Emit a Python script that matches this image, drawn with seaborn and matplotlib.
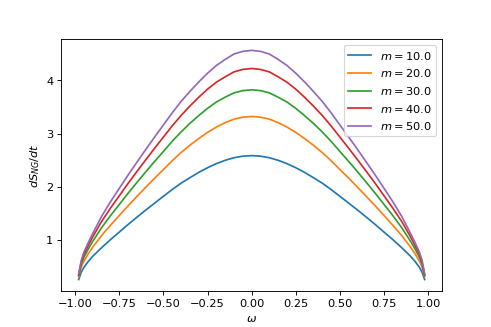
import pandas as pd
import seaborn as sns
import matplotlib.pyplot as plt


# omega grid and dS_NG/dt values
omega = [-0.98, -0.965, -0.95, -0.925, -0.9, -0.85, -0.8, -0.75, -0.7, -0.65, -0.6, -0.55,
         -0.5, -0.45, -0.4, -0.35, -0.3, -0.25, -0.2, -0.15, -0.1, -0.05, 0.0,
         0.05, 0.1, 0.15, 0.2, 0.25, 0.3, 0.35, 0.4, 0.45, 0.5, 0.55, 0.6, 0.65,
         0.7, 0.75, 0.8, 0.85, 0.9, 0.925, 0.95, 0.965, 0.98]

m10 = [0.26, 0.40, 0.491, 0.602, 0.698, 0.858, 1.008, 1.150, 1.293, 1.430, 1.564, 1.693,
       1.822, 1.949, 2.068, 2.171, 2.270, 2.358, 2.435, 2.497, 2.546, 2.575, 2.585,
       2.575, 2.546, 2.497, 2.435, 2.358, 2.270, 2.171, 2.068, 1.949, 1.822, 1.693, 1.564, 1.430,
       1.293, 1.150, 1.008, 0.858, 0.698, 0.602, 0.491, 0.40, 0.26]
m20 = [0.31, 0.498, 0.608, 0.747, 0.870, 1.086, 1.278, 1.461, 1.643, 1.819, 1.992, 2.161,
       2.324, 2.490, 2.643, 2.779, 2.905, 3.021, 3.121, 3.204, 3.270, 3.307, 3.32,
       3.307, 3.270, 3.204, 3.121, 3.021, 2.905, 2.779, 2.643, 2.490, 2.324, 2.161, 1.992, 1.819,
       1.643, 1.461, 1.278, 1.086, 0.870, 0.747, 0.608, 0.498, 0.31]
m30 = [0.33, 0.554, 0.680, 0.837, 0.978, 1.234, 1.459, 1.669, 1.879, 2.082, 2.281, 2.475,
       2.663, 2.854, 3.029, 3.190, 3.335, 3.472, 3.591, 3.682, 3.763, 3.805, 3.82,
       3.805, 3.763, 3.682, 3.591, 3.472, 3.335, 3.190, 3.029, 2.854, 2.663, 2.475, 2.281, 2.082,
       1.879, 1.669, 1.459, 1.234, 0.978, 0.837, 0.680, 0.554, 0.33]
m40 = [0.35, 0.591, 0.734, 0.903, 1.063, 1.350, 1.599, 1.831, 2.064, 2.287, 2.507, 2.722,
       2.933, 3.144, 3.338, 3.515, 3.680, 3.832, 3.963, 4.064, 4.157, 4.203, 4.22,
       4.203, 4.157, 4.064, 3.963, 3.832, 3.680, 3.515, 3.338, 3.144, 2.933, 2.722, 2.507, 2.287,
       2.064, 1.831, 1.599, 1.350, 1.063, 0.903, 0.734, 0.591, 0.35]
m50 = [0.37, 0.625, 0.775, 0.958, 1.126, 1.446, 1.719, 1.970, 2.221, 2.462, 2.700, 2.932,
       3.160, 3.388, 3.602, 3.789, 3.967, 4.131, 4.277, 4.391, 4.492, 4.542, 4.56,
       4.542, 4.492, 4.391, 4.277, 4.131, 3.967, 3.789, 3.602, 3.388, 3.160, 2.932, 2.700, 2.462,
       2.221, 1.970, 1.719, 1.446, 1.126, 0.958, 0.775, 0.625, 0.37]

masses = [10.0, 20.0, 30.0, 40.0, 50.0]
series = [m10, m20, m30, m40, m50]
colors = sns.color_palette('tab10', 5)

fig, ax = plt.subplots(figsize=(6, 4), dpi=81.84)

for m, vals, c in zip(masses, series, colors):
    df = pd.DataFrame({'omega': omega, 'dS': vals})
    sns.lineplot(data=df, x='omega', y='dS', color=c, label=r'$m = %.1f$' % m, ax=ax)

ax.set_xlabel(r'$\omega$')
ax.set_ylabel(r'$dS_{NG}/dt$')
ax.set_xticks([-1.0, -0.75, -0.5, -0.25, 0.0, 0.25, 0.5, 0.75, 1.0])
ax.set_yticks([1, 2, 3, 4])
ax.legend(loc='upper right')

plt.savefig('out.png', dpi=81.84)
